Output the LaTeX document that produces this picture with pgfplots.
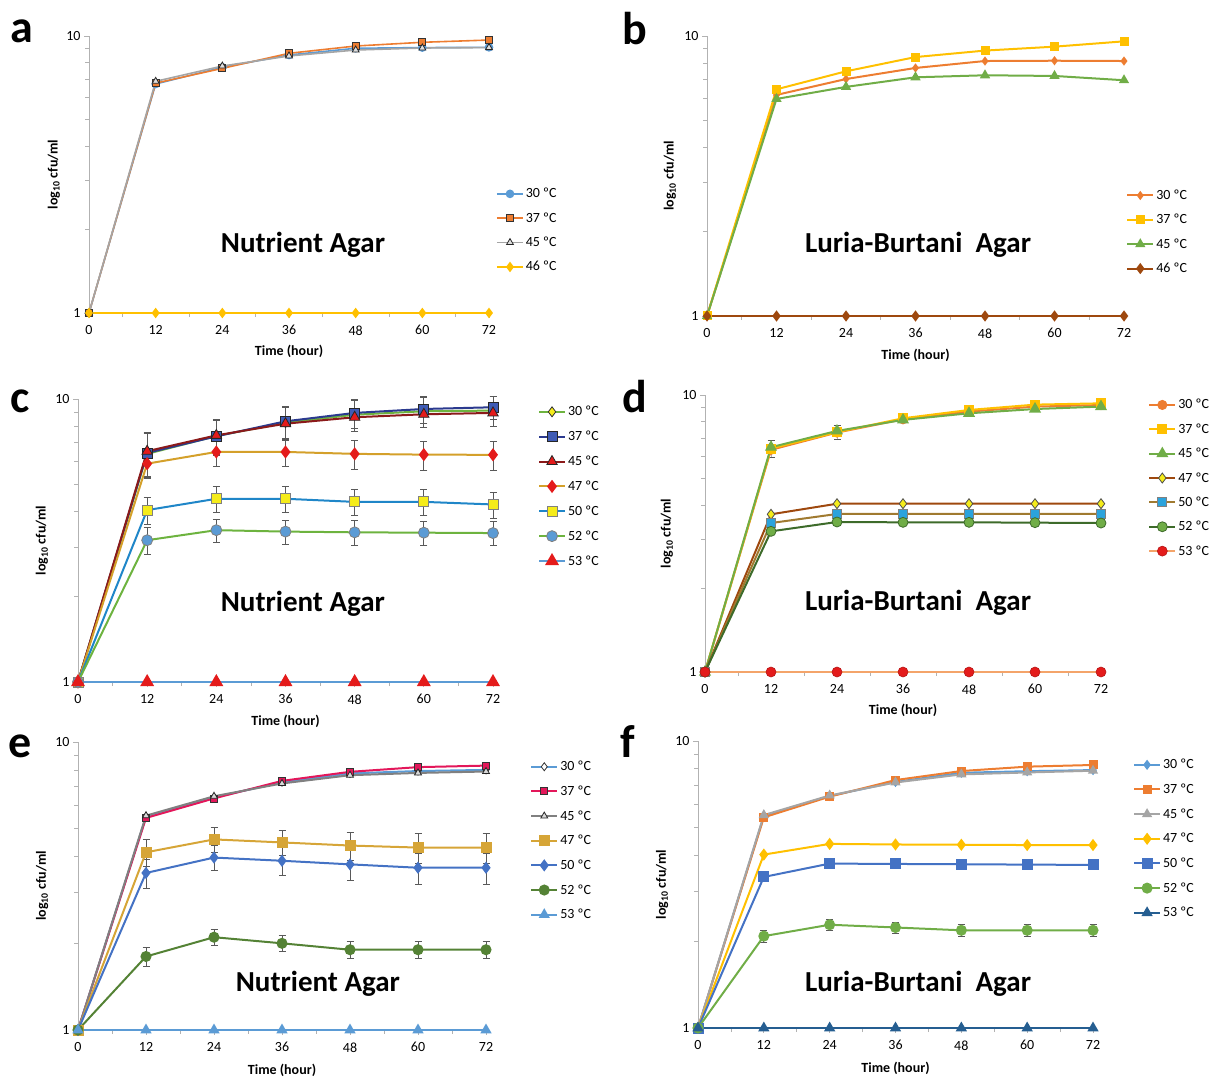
\documentclass[border=0pt]{standalone}
\usepackage{fontspec}
\setmainfont{Carlito}
\usepackage{pgfplots}
\pgfplotsset{compat=1.18}
\definecolor{xblue}{HTML}{5B9BD5}
\definecolor{xorange}{HTML}{ED7D31}
\definecolor{xgray}{HTML}{A5A5A5}
\definecolor{xgold}{HTML}{FFC000}
\definecolor{xgreen}{HTML}{70AD47}
\definecolor{xbrown}{HTML}{9E480E}
\definecolor{xdblue}{HTML}{4472C4}
\definecolor{xnavy}{HTML}{255E91}
\definecolor{cnavy}{HTML}{2B3A8F}
\definecolor{csq}{HTML}{3F5BB5}
\definecolor{cdred}{HTML}{8B1A1A}
\definecolor{cred}{HTML}{E41B1B}
\definecolor{cgold}{HTML}{D4A02A}
\definecolor{ccyan}{HTML}{1F86C8}
\definecolor{cyel}{HTML}{F5EC1A}
\definecolor{cgreen}{HTML}{6DB33F}
\definecolor{dolive}{HTML}{A07A30}
\definecolor{dcyan}{HTML}{2BA3DC}
\definecolor{ddgreen}{HTML}{3D6B2A}
\definecolor{dlorange}{HTML}{F4A46A}
\definecolor{epink}{HTML}{E3175A}
\definecolor{egold}{HTML}{D6A537}
\definecolor{egreen}{HTML}{548235}
\newcommand{\fs}{\fontsize{14}{16}\selectfont}
\pgfplotsset{
  panel/.style={
    scale only axis, anchor=south west,
    xmin=0, xmax=72, ymin=1, ymax=10,
    axis x line*=bottom, axis y line*=left,
    axis line style={draw=gray!60, line width=0.8pt},
    xtick={0,12,...,72}, minor xtick={6,18,...,66},
    ytick={1,10}, yticklabels={1,10}, minor ytick={2,3,...,9},
    tick style={gray!60, line width=0.8pt},
    major tick length=5pt, minor tick length=4pt,
    tick align=outside,
    tick label style={font=\fs},
    xticklabel style={yshift=-4pt},
    /pgf/number format/assume math mode=true,
    xlabel={\textbf{Time (hour)}},
    ylabel={\textbf{log\textsubscript{10} cfu/ml}},
    label style={font=\fs},
    xlabel style={at={(axis description cs:0.5,-0.14)}, anchor=center},
    ylabel style={at={(axis description cs:-0.088,0.5)}, anchor=center},
    legend cell align=left,
    legend style={draw=none, fill=none, font=\fs, row sep=9.3pt, anchor=north west, inner sep=0pt},
    legend image code/.code={\draw[mark repeat=2,mark phase=2,##1] plot coordinates {(0pt,0pt) (13pt,0pt) (26pt,0pt)};},
    clip=false,
    every axis plot/.append style={line width=2pt},
  },
  eb/.style={draw=none, forget plot, error bars/.cd, y dir=both, y explicit,
    error bar style={gray!70!black, line width=0.8pt},
    error mark options={rotate=90, mark size=3.5pt, gray!70!black, line width=0.8pt}},
}
\tikzset{ttl/.style={font=\bfseries\fontsize{29}{32}\selectfont}}
\begin{document}
\begin{tikzpicture}
\useasboundingbox (0,0) rectangle (1209pt,1077pt);
% panel letters
\node[anchor=base west, font=\bfseries\fontsize{46}{50}\selectfont, inner sep=0pt] at (10pt,1034pt) {a};
\node[anchor=base west, font=\bfseries\fontsize{46}{50}\selectfont, inner sep=0pt] at (622pt,1032pt) {b};
\node[anchor=base west, font=\bfseries\fontsize{46}{50}\selectfont, inner sep=0pt] at (10pt,664pt) {c};
\node[anchor=base west, font=\bfseries\fontsize{46}{50}\selectfont, inner sep=0pt] at (622pt,664pt) {d};
\node[anchor=base west, font=\bfseries\fontsize{46}{50}\selectfont, inner sep=0pt] at (8pt,320pt) {e};
\node[anchor=base west, font=\bfseries\fontsize{46}{50}\selectfont, inner sep=0pt] at (620pt,320pt) {f};

% ---------------- a
\begin{semilogyaxis}[panel, at={(89pt,764pt)}, width=400pt, height=277pt,
  legend style={at={(axis description cs:1.0175,0.458)}},
  every axis plot/.append style={line width=1.6pt}]
\addplot[xblue, mark=*, mark size=3.5pt, mark options={solid}] coordinates {(0,1)(12,6.71)(24,7.71)(36,8.54)(48,9.03)(60,9.08)(72,9.1)};
\addplot[xorange, mark=square*, mark size=3.5pt, mark options={fill=xorange, draw=black!80, line width=0.8pt}] coordinates {(0,1)(12,6.76)(24,7.64)(36,8.66)(48,9.2)(60,9.49)(72,9.67)};
\addplot[xgray, mark=triangle*, mark size=4pt, mark options={fill=gray!25, draw=black!85, line width=0.8pt}] coordinates {(0,1)(12,6.86)(24,7.79)(36,8.47)(48,8.9)(60,9.05)(72,9.08)};
\addplot[xgold, mark=diamond*, mark size=4pt, mark options={fill=xgold}] coordinates {(0,1)(12,1)(24,1)(36,1)(48,1)(60,1)(72,1)};
\legend{30 ºC,37 ºC,45 ºC,46 ºC}
\node[ttl] at (axis description cs:0.535,0.245) {Nutrient Agar};
\end{semilogyaxis}

% ---------------- b
\begin{semilogyaxis}[panel, at={(707pt,761pt)}, width=417pt, height=280pt,
  legend style={at={(axis description cs:1.005,0.458)}},
  ylabel style={at={(axis description cs:-0.089,0.5)}}]
\addplot[xorange, mark=diamond*, mark size=3pt] coordinates {(0,1)(12,6.16)(24,7.02)(36,7.69)(48,8.14)(60,8.16)(72,8.14)};
\addplot[xgold, mark=square*, mark size=3.5pt] coordinates {(0,1)(12,6.45)(24,7.48)(36,8.41)(48,8.87)(60,9.16)(72,9.57)};
\addplot[xgreen, mark=triangle*, mark size=4pt] coordinates {(0,1)(12,5.96)(24,6.58)(36,7.12)(48,7.24)(60,7.2)(72,6.95)};
\addplot[xbrown, mark=diamond*, mark size=4pt] coordinates {(0,1)(12,1)(24,1)(36,1)(48,1)(60,1)(72,1)};
\legend{30 ºC,37 ºC,45 ºC,46 ºC}
\node[ttl] at (axis description cs:0.506,0.254) {Luria-Burtani~~Agar};
\end{semilogyaxis}

% ---------------- c
\begin{semilogyaxis}[panel, at={(78pt,395pt)}, width=415pt, height=283pt,
  legend style={at={(axis description cs:1.108,0.982)}, row sep=9.8pt},
  ylabel style={at={(axis description cs:-0.087,0.5)}}]
\addplot[eb] coordinates {(12,6.4)+-(0,1.15)(24,7.4)+-(0,1.05)(36,8.25)+-(0,1.1)(48,8.8)+-(0,1.1)(60,9.05)+-(0,1.1)(72,9.1)+-(0,1.1)};
\addplot[eb] coordinates {(12,6.45)+-(0,1.15)(24,7.38)+-(0,1.05)(36,8.34)+-(0,1.1)(48,8.93)+-(0,1.05)(60,9.22)+-(0,1.0)(72,9.35)+-(0,0.9)};
\addplot[eb] coordinates {(12,5.91)+-(0,0.6)(24,6.5)+-(0,0.72)(36,6.5)+-(0,0.72)(48,6.4)+-(0,0.75)(60,6.36)+-(0,0.75)(72,6.35)+-(0,0.75)};
\addplot[eb] coordinates {(12,4.05)+-(0,0.45)(24,4.44)+-(0,0.47)(36,4.44)+-(0,0.47)(48,4.33)+-(0,0.45)(60,4.33)+-(0,0.45)(72,4.24)+-(0,0.45)};
\addplot[eb] coordinates {(12,3.17)+-(0,0.35)(24,3.44)+-(0,0.33)(36,3.40)+-(0,0.33)(48,3.38)+-(0,0.33)(60,3.37)+-(0,0.33)(72,3.36)+-(0,0.33)};
\addplot[cgreen, mark=diamond*, mark size=5pt, mark options={fill=cyel, draw=black!80, line width=0.8pt}] coordinates {(0,1)(12,6.4)(24,7.4)(36,8.25)(48,8.8)(60,9.05)(72,9.1)};
\addplot[cnavy, mark=square*, mark size=5pt, mark options={fill=csq, draw=black!85, line width=0.8pt}] coordinates {(0,1)(12,6.45)(24,7.38)(36,8.34)(48,8.93)(60,9.22)(72,9.35)};
\addplot[cdred, mark=triangle*, mark size=6pt, mark options={fill=cred, draw=black!85, line width=0.8pt}] coordinates {(0,1)(12,6.54)(24,7.44)(36,8.18)(48,8.62)(60,8.83)(72,8.93)};
\addplot[cgold, mark=diamond*, mark size=5pt, mark options={fill=cred, draw=cred}] coordinates {(0,1)(12,5.91)(24,6.5)(36,6.5)(48,6.4)(60,6.36)(72,6.35)};
\addplot[ccyan, mark=square*, mark size=5pt, mark options={fill=cyel, draw=gray, line width=0.8pt}] coordinates {(0,1)(12,4.05)(24,4.44)(36,4.44)(48,4.33)(60,4.33)(72,4.24)};
\addplot[cgreen, mark=*, mark size=5.5pt, mark options={fill=xblue, draw=gray, line width=0.8pt}] coordinates {(0,1)(12,3.17)(24,3.44)(36,3.40)(48,3.38)(60,3.37)(72,3.36)};
\addplot[xblue, mark=triangle*, mark size=6pt, mark options={fill=cred, draw=cred}] coordinates {(0,1)(12,1)(24,1)(36,1)(48,1)(60,1)(72,1)};
\legend{30 ºC,37 ºC,45 ºC,47 ºC,50 ºC,52 ºC,53 ºC}
\node[ttl] at (axis description cs:0.542,0.276) {Nutrient Agar};
\end{semilogyaxis}

% ---------------- d
\begin{semilogyaxis}[panel, at={(705pt,405pt)}, width=396pt, height=277pt,
  legend style={at={(axis description cs:1.119,0.992)}},
  ylabel style={at={(axis description cs:-0.096,0.5)}}]
\addplot[eb, error bar style={gray!60, line width=0.8pt}] coordinates {(12,6.41)+-(0,0.45)(24,7.34)+-(0,0.45)(36,8.24)+-(0,0.3)(48,8.83)+-(0,0.3)(60,9.23)+-(0,0.3)(72,9.33)+-(0,0.3)};
\addplot[xorange, mark=*, mark size=4pt] coordinates {(0,1)(12,6.34)(24,7.32)(36,8.17)(48,8.71)(60,9.08)(72,9.2)};
\addplot[xgold, mark=square*, mark size=4pt] coordinates {(0,1)(12,6.41)(24,7.34)(36,8.24)(48,8.83)(60,9.23)(72,9.33)};
\addplot[xgreen, mark=triangle*, mark size=5pt] coordinates {(0,1)(12,6.48)(24,7.42)(36,8.13)(48,8.59)(60,8.9)(72,9.08)};
\addplot[xbrown, mark=diamond*, mark size=5pt, mark options={fill=cyel, draw=black!70, line width=0.8pt}] coordinates {(0,1)(12,3.71)(24,4.05)(36,4.05)(48,4.05)(60,4.05)(72,4.05)};
\addplot[dolive, mark=square*, mark size=4.5pt, mark options={fill=dcyan, draw=gray, line width=0.8pt}] coordinates {(0,1)(12,3.45)(24,3.72)(36,3.72)(48,3.72)(60,3.72)(72,3.72)};
\addplot[ddgreen, mark=*, mark size=5pt, mark options={fill=xgreen, draw=ddgreen, line width=0.8pt}] coordinates {(0,1)(12,3.22)(24,3.48)(36,3.47)(48,3.47)(60,3.46)(72,3.45)};
\addplot[dlorange, mark=*, mark size=5pt, mark options={fill=cred, draw=cred!80!black, line width=0.6pt}] coordinates {(0,1)(12,1)(24,1)(36,1)(48,1)(60,1)(72,1)};
\legend{30 ºC,37 ºC,45 ºC,47 ºC,50 ºC,52 ºC,53 ºC}
\node[ttl] at (axis description cs:0.538,0.249) {Luria-Burtani~~Agar};
\end{semilogyaxis}

% ---------------- e
\begin{semilogyaxis}[panel, at={(78pt,47pt)}, width=408pt, height=288pt,
  legend style={at={(axis description cs:1.108,0.941)}, row sep=9.6pt}]
\addplot[eb] coordinates {(12,4.14)+-(0,0.45)(24,4.59)+-(0,0.45)(36,4.48)+-(0,0.45)(48,4.37)+-(0,0.5)(60,4.3)+-(0,0.5)(72,4.3)+-(0,0.5)};
\addplot[eb] coordinates {(12,3.51)+-(0,0.4)(24,3.97)+-(0,0.4)(36,3.87)+-(0,0.42)(48,3.76)+-(0,0.45)(60,3.66)+-(0,0.45)(72,3.66)+-(0,0.45)};
\addplot[eb] coordinates {(12,1.80)+-(0,0.14)(24,2.10)+-(0,0.13)(36,2.0)+-(0,0.13)(48,1.9)+-(0,0.13)(60,1.9)+-(0,0.13)(72,1.9)+-(0,0.13)};
\addplot[xblue, mark=diamond*, mark size=4pt, mark options={fill=white, draw=black!80, line width=0.8pt}] coordinates {(0,1)(12,5.5)(24,6.42)(36,7.25)(48,7.78)(60,7.93)(72,8.0)};
\addplot[epink, mark=square*, mark size=3.5pt, mark options={fill=epink, draw=black!80, line width=0.8pt}] coordinates {(0,1)(12,5.45)(24,6.37)(36,7.33)(48,7.88)(60,8.18)(72,8.28)};
\addplot[gray, mark=triangle*, mark size=4pt, mark options={fill=gray!30, draw=black!85, line width=0.8pt}] coordinates {(0,1)(12,5.55)(24,6.48)(36,7.18)(48,7.67)(60,7.81)(72,7.9)};
\addplot[egold, mark=square*, mark size=4.5pt] coordinates {(0,1)(12,4.14)(24,4.59)(36,4.48)(48,4.37)(60,4.3)(72,4.3)};
\addplot[xdblue, mark=diamond*, mark size=4.5pt] coordinates {(0,1)(12,3.51)(24,3.97)(36,3.87)(48,3.76)(60,3.66)(72,3.66)};
\addplot[egreen, mark=*, mark size=4.5pt] coordinates {(0,1)(12,1.80)(24,2.10)(36,2.0)(48,1.9)(60,1.9)(72,1.9)};
\addplot[xblue, mark=triangle*, mark size=4.5pt] coordinates {(0,1)(12,1)(24,1)(36,1)(48,1)(60,1)(72,1)};
\legend{30 ºC,37 ºC,45 ºC,47 ºC,50 ºC,52 ºC,53 ºC}
\node[ttl] at (axis description cs:0.588,0.16) {Nutrient Agar};
\end{semilogyaxis}

% ---------------- f
\begin{semilogyaxis}[panel, at={(698pt,49pt)}, width=395pt, height=287pt,
  legend style={at={(axis description cs:1.101,0.944)}, row sep=9.6pt},
  ylabel style={at={(axis description cs:-0.091,0.5)}}]
\addplot[eb] coordinates {(12,2.09)+-(0,0.1)(24,2.29)+-(0,0.1)(36,2.24)+-(0,0.1)(48,2.19)+-(0,0.1)(60,2.19)+-(0,0.1)(72,2.19)+-(0,0.1)};
\addplot[xblue, mark=diamond*, mark size=3.5pt] coordinates {(0,1)(12,5.47)(24,6.43)(36,7.2)(48,7.75)(60,7.85)(72,7.92)};
\addplot[xorange, mark=square*, mark size=3.5pt] coordinates {(0,1)(12,5.42)(24,6.4)(36,7.31)(48,7.86)(60,8.14)(72,8.25)};
\addplot[xgray, mark=triangle*, mark size=4pt] coordinates {(0,1)(12,5.52)(24,6.46)(36,7.17)(48,7.65)(60,7.77)(72,7.88)};
\addplot[xgold, mark=diamond*, mark size=4.5pt] coordinates {(0,1)(12,4.02)(24,4.38)(36,4.36)(48,4.35)(60,4.34)(72,4.34)};
\addplot[xdblue, mark=square*, mark size=4.5pt] coordinates {(0,1)(12,3.36)(24,3.74)(36,3.73)(48,3.72)(60,3.71)(72,3.7)};
\addplot[xgreen, mark=*, mark size=4.5pt] coordinates {(0,1)(12,2.09)(24,2.29)(36,2.24)(48,2.19)(60,2.19)(72,2.19)};
\addplot[xnavy, mark=triangle*, mark size=4.5pt] coordinates {(0,1)(12,1)(24,1)(36,1)(48,1)(60,1)(72,1)};
\legend{30 ºC,37 ºC,45 ºC,47 ºC,50 ºC,52 ºC,53 ºC}
\node[ttl] at (axis description cs:0.557,0.153) {Luria-Burtani~~Agar};
\end{semilogyaxis}
\end{tikzpicture}
\end{document}
